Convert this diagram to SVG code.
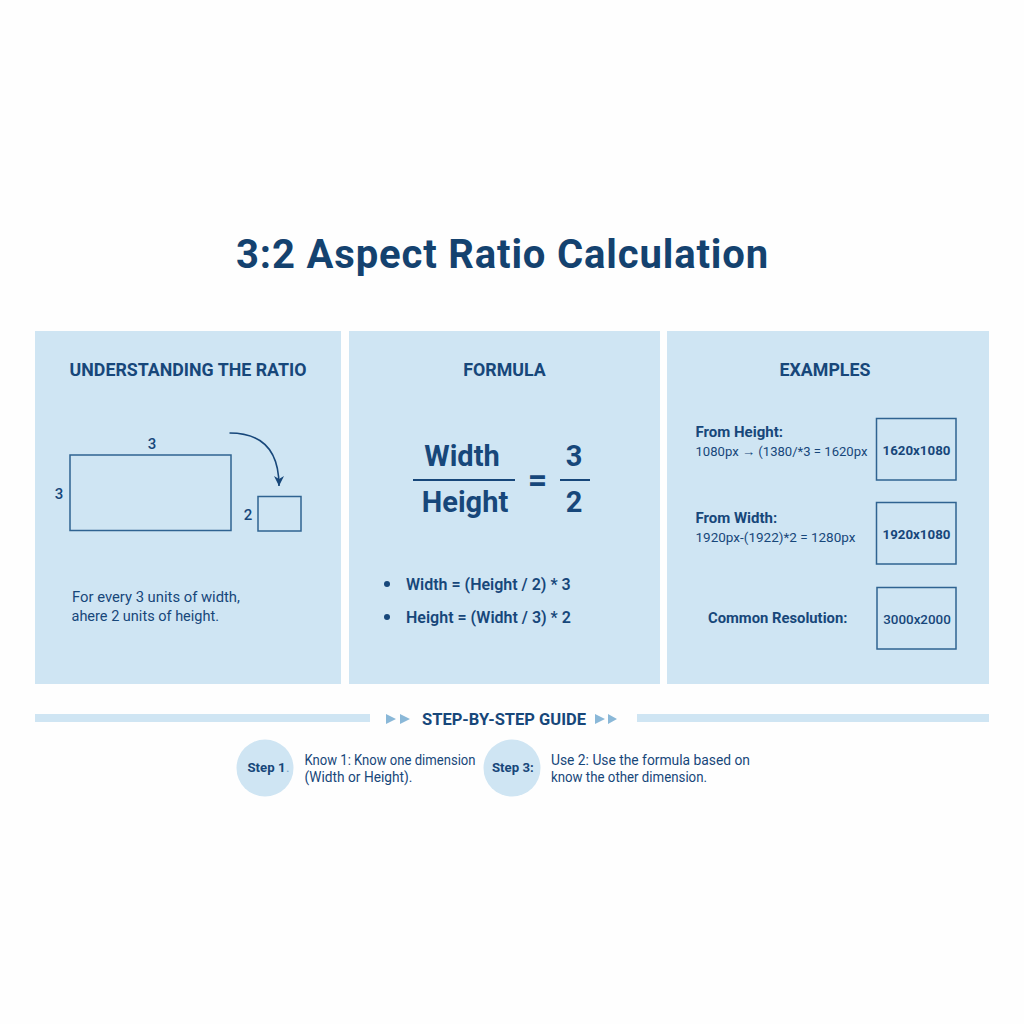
<svg xmlns="http://www.w3.org/2000/svg" width="1024" height="1024" viewBox="0 0 1024 1024">
<defs>
<style>
text{font-family:Roboto,"Liberation Sans",sans-serif;fill:#17477a}
.h{font-size:17.8px;font-weight:700;text-anchor:middle}
.b{font-weight:700}
.panel{fill:#cfe5f3}
.box{fill:none;stroke:#2f6391;stroke-width:1.5}
.t14{font-size:14px}
.t15{font-size:15px}
.s{font-size:14.8px;font-weight:500}
.bar{fill:#cfe5f3}
.tri{fill:#8ab8d8}
.circ{fill:#cfe5f3}
</style>
<marker id="ah" viewBox="0 0 12 12" refX="11" refY="6" markerWidth="12" markerHeight="12" markerUnits="userSpaceOnUse" orient="auto"><path d="M1 1 L11 6 L1 11 L4 6 Z" fill="#17477a"/></marker>
</defs>
<rect width="1024" height="1024" fill="#fefefe"/>
<text x="502.500" y="268" font-size="40" font-weight="700" text-anchor="middle" letter-spacing="0.85" style="fill:#14426f">3:2 Aspect Ratio Calculation</text>
<g id="panel-ratio">
<rect class="panel" x="35" y="331" width="306" height="353"/>
<text class="h" x="188" y="376">UNDERSTANDING THE RATIO</text>
<rect class="box" x="70" y="455" width="161" height="75.500"/>
<rect class="box" x="258" y="496.500" width="43" height="34.500"/>
<text x="152" y="449" class="t15" font-weight="500" text-anchor="middle">3</text>
<text x="59" y="499" class="t15" font-weight="500" text-anchor="middle">3</text>
<text x="248" y="520" class="t15" font-weight="500" text-anchor="middle">2</text>
<text x="72" y="602" font-size="14.800">For every 3 units of width,</text>
<text x="71.500" y="621" font-size="14.500">ahere 2 units of height.</text>
</g>
<g id="panel-formula">
<rect class="panel" x="349" y="331" width="311" height="353"/>
<text class="h" x="504.500" y="376">FORMULA</text>
<text x="462" y="466" font-size="29" font-weight="700" text-anchor="middle">Width</text>
<rect x="413" y="479" width="102" height="2" fill="#17477a"/>
<text x="465" y="512" font-size="29" font-weight="700" text-anchor="middle">Height</text>
<text x="537.500" y="491" font-size="34" font-weight="700" text-anchor="middle">=</text>
<text x="574" y="466" font-size="29" font-weight="700" text-anchor="middle">3</text>
<rect x="560" y="479" width="30" height="2" fill="#17477a"/>
<text x="574" y="512" font-size="29" font-weight="700" text-anchor="middle">2</text>
<circle cx="387" cy="584" r="3" fill="#17477a"/>
<circle cx="387" cy="617" r="3" fill="#17477a"/>
<text x="406" y="590" font-size="16" font-weight="600">Width = (Height / 2) * 3</text>
<text x="406" y="623" font-size="16" font-weight="600">Height = (Widht / 3) * 2</text>
</g>
<g id="panel-examples">
<rect class="panel" x="667" y="331" width="322" height="353"/>
<text class="h" x="825" y="376">EXAMPLES</text>
<text x="695.500" y="437" font-size="15" font-weight="700">From Height:</text>
<text x="695.500" y="456" font-size="13.500" textLength="172" lengthAdjust="spacingAndGlyphs">1080px → (1380/*3 = 1620px</text>
<text x="695.500" y="523" font-size="15" font-weight="700">From Width:</text>
<text x="695.500" y="542" font-size="13.500">1920px-(1922)*2 = 1280px</text>
<text x="708" y="623" class="s" font-weight="700" style="font-weight:700">Common Resolution:</text>
<rect class="box" x="876.500" y="418.500" width="79.500" height="61.500"/>
<rect class="box" x="876.500" y="502.500" width="79.500" height="61.500"/>
<rect class="box" x="877" y="587.500" width="79" height="61.500"/>
<text x="916.500" y="455" font-size="13.300" class="b" text-anchor="middle">1620x1080</text>
<text x="916.500" y="539" font-size="13.300" class="b" text-anchor="middle">1920x1080</text>
<text x="917" y="624" font-size="13.400" font-weight="500" text-anchor="middle">3000x2000</text>
</g>
<g id="guide-header">
<rect class="bar" x="35" y="714" width="335" height="8"/>
<rect class="bar" x="637" y="714" width="352" height="8"/>
<path class="tri" d="M386 714 L396 719 L386 724 Z M400 714 L410 719 L400 724 Z M595 714 L605 719 L595 724 Z M608 714 L617 719 L608 724 Z"/>
<text x="504" y="724.500" font-size="16.500" font-weight="700" text-anchor="middle">STEP-BY-STEP GUIDE</text>
</g>
<g id="step-1">
<circle class="circ" cx="265" cy="768" r="28.500"/>
<text x="247.500" y="772" font-size="13.200" font-weight="700">Step 1</text>
<text x="286" y="772" font-size="13.500" style="fill:#7ba6c8">.</text>
<text x="304.500" y="765" class="t14" textLength="171" lengthAdjust="spacingAndGlyphs">Know 1: Know one dimension</text>
<text x="304.500" y="782" class="t14" textLength="108" lengthAdjust="spacingAndGlyphs">(Width or Height).</text>
</g>
<g id="step-3">
<circle class="circ" cx="512" cy="768" r="28.500"/>
<text x="492" y="772" font-size="13.200" font-weight="700">Step 3:</text>
<text x="551" y="765" class="t14" textLength="199" lengthAdjust="spacingAndGlyphs">Use 2: Use the formula based on</text>
<text x="551" y="782" class="t14" textLength="156" lengthAdjust="spacingAndGlyphs">know the other dimension.</text>
</g>
<g id="connectors">
<path d="M229.500 433 C262 433 279 450 279 486" fill="none" stroke="#17477a" stroke-width="1.600" marker-end="url(#ah)"/>
</g>
</svg>
